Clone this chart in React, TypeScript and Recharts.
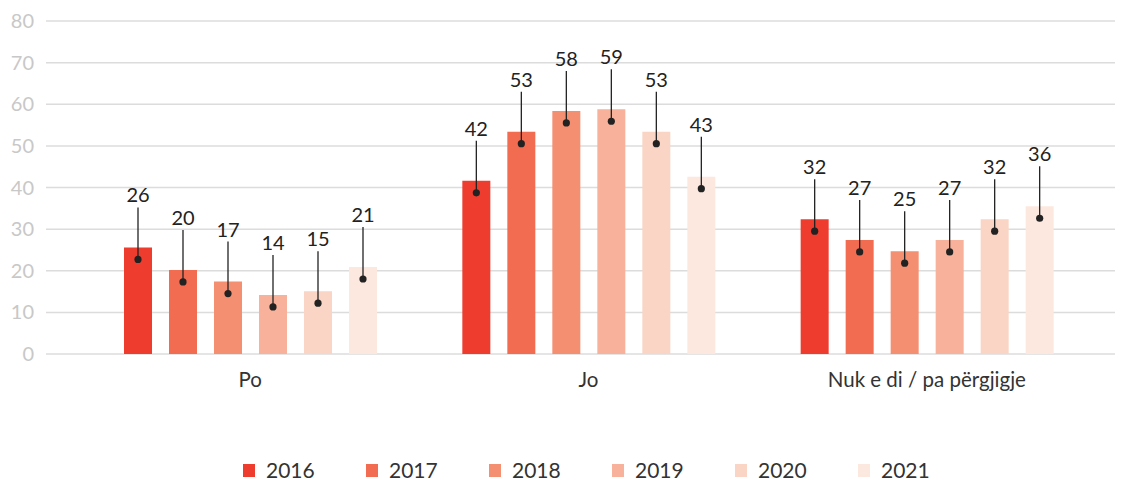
import React from 'react';
import { BarChart, Bar, XAxis, YAxis, CartesianGrid, LabelList } from 'recharts';

const categories = ['Po', 'Jo', 'Nuk e di / pa përgjigje'];
const years = ['2016', '2017', '2018', '2019', '2020', '2021'];

// one array per year, values in the order of categories
const v2016 = [25.6, 41.6, 32.4];
const v2017 = [20.2, 53.4, 27.4];
const v2018 = [17.4, 58.4, 24.7];
const v2019 = [14.2, 58.8, 27.4];
const v2020 = [15.1, 53.4, 32.4];
const v2021 = [20.9, 42.6, 35.5];

const yTicks = [0, 10, 20, 30, 40, 50, 60, 70, 80];

const COLORS = ['#ee3d2f', '#f16c50', '#f58f71', '#f8b19a', '#fad5c5', '#fce8df'];

const FONT = 'Lato, "Noto Sans", sans-serif';

const seriesValues = [v2016, v2017, v2018, v2019, v2020, v2021];
const chartData = categories.map((name, i) => {
  const row: any = { name };
  years.forEach((y, s) => {
    row[y] = seriesValues[s][i];
  });
  return row;
});

// leader line with dot and value above each bar
const LeaderLabel = (props: any) => {
  const { x, y, width, value } = props;
  const cx = x + width / 2;
  const cy = y + 12;
  return (
    <g>
      <line x1={cx} y1={cy} x2={cx} y2={cy - 52} stroke="#222" strokeWidth={1.3} />
      <circle cx={cx} cy={cy} r={3.6} fill="#222" />
      <text
        x={cx}
        y={cy - 65}
        textAnchor="middle"
        dominantBaseline="central"
        fontSize={20}
        fill="#222"
        fontFamily={FONT}
      >
        {Math.round(value)}
      </text>
    </g>
  );
};

export default function App() {
  return (
    <div style={{ position: 'absolute', top: 0, left: 0, width: 1126, height: 481, background: '#fff', overflow: 'hidden' }}>
      <BarChart
        width={1126}
        height={481}
        data={chartData}
        margin={{ top: 21, right: 11, bottom: 97, left: 0 }}
        barSize={28}
        barGap={17}
        barCategoryGap={42}
      >
        <CartesianGrid vertical={false} stroke="#dcdcdc" strokeWidth={1.5} />
        <XAxis
          dataKey="name"
          axisLine={false}
          tickLine={false}
          height={30}
          padding={{ left: 35, right: 19 }}
          tickMargin={12}
          tick={{ fill: '#333', fontSize: 20.5, fontFamily: FONT }}
        />
        <YAxis
          domain={[0, 80]}
          ticks={yTicks}
          width={46}
          axisLine={false}
          tickLine={false}
          tickMargin={6}
          tick={{ fill: '#c8c8c8', fontSize: 20, fontFamily: FONT }}
        />
        {years.map((y, i) => (
          <Bar key={y} dataKey={y} fill={COLORS[i]} isAnimationActive={false}>
            <LabelList dataKey={y} content={<LeaderLabel />} />
          </Bar>
        ))}
      </BarChart>
      <div
        style={{
          position: 'absolute',
          top: 458,
          left: 243,
          display: 'flex',
          fontFamily: FONT,
          fontSize: 21,
          lineHeight: '24px',
          color: '#333',
        }}
      >
        {years.map((y, i) => (
          <div key={y} style={{ display: 'flex', alignItems: 'center', width: 123 }}>
            <span style={{ display: 'inline-block', width: 12, height: 13, background: COLORS[i], marginRight: 11 }} />
            <span>{y}</span>
          </div>
        ))}
      </div>
    </div>
  );
}
